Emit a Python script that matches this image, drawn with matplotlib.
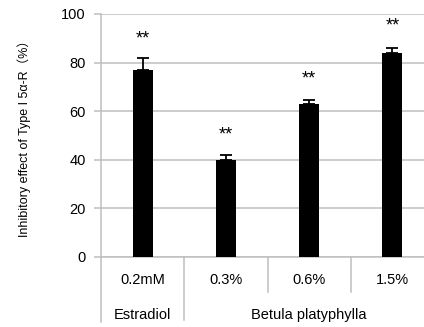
import matplotlib.pyplot as plt

categories = ['0.2mM', '0.3%', '0.6%', '1.5%']
groups = ['Estradiol', 'Betula platyphylla']
group_spans = [(0, 1), (1, 4)]
values = [77, 40, 63, 84]
errors = [4.8, 2.0, 1.6, 1.8]
star_y = [91.3, 51.8, 74.8, 96.4]

plt.rcParams['font.family'] = ['Liberation Sans', 'Noto Sans CJK SC']
grid_col = '#bfbfbf'

fig = plt.figure(figsize=(4.24, 3.27), dpi=100)
ax = fig.add_axes([101 / 424, 1 - 256.7 / 327, 333 / 424, 242.7 / 327])

x = range(len(categories))
ax.bar(x, values, width=0.24, color='black', zorder=3)
ax.errorbar(x, values, yerr=[[0] * len(errors), errors], fmt='none',
            ecolor='black', elinewidth=1.3, capsize=4.5, capthick=1.3, zorder=4)
for i, s in enumerate(star_y):
    ax.text(i, s - 1.5, '**', ha='center', va='center', fontsize=13)

ax.set_xlim(-0.5, len(categories) - 0.5)
ax.set_ylim(0, 100)
ax.set_yticks(range(0, 101, 20))
ax.yaxis.grid(True, color=grid_col, linewidth=1.1, zorder=0)
ax.tick_params(axis='y', length=5, color=grid_col, width=1.1, labelsize=10.5, pad=6)
ax.set_xticks([])
for sp in ['top', 'right']:
    ax.spines[sp].set_visible(False)
for sp in ['left', 'bottom']:
    ax.spines[sp].set_color(grid_col)
    ax.spines[sp].set_linewidth(1.1)

# category labels below the axis
row1 = -0.095
row2 = -0.24
for i, c in enumerate(categories):
    ax.text(i, row1, c, transform=ax.get_xaxis_transform(), ha='center',
            va='center', fontsize=10.5)
for g, (a, b) in zip(groups, group_spans):
    ax.text((a + b - 1) / 2, row2, g, transform=ax.get_xaxis_transform(),
            ha='center', va='center', fontsize=10.5)

# separators
trans = ax.get_xaxis_transform()
group_edges = {a - 0.5 for a, b in group_spans}
for k in range(len(categories)):
    xe = k - 0.5
    bottom = -0.26 if xe in group_edges else -0.145
    if k == 0:
        bottom = -0.27
    ax.plot([xe, xe], [0, bottom], transform=trans, color=grid_col,
            linewidth=1.1, clip_on=False)

ax.set_ylabel('Inhibitory effect of Type I 5α-R（%）', fontsize=9, labelpad=6)
ax.yaxis.set_label_coords(-0.21, 0.5)

fig.savefig('out.png', dpi=100)
